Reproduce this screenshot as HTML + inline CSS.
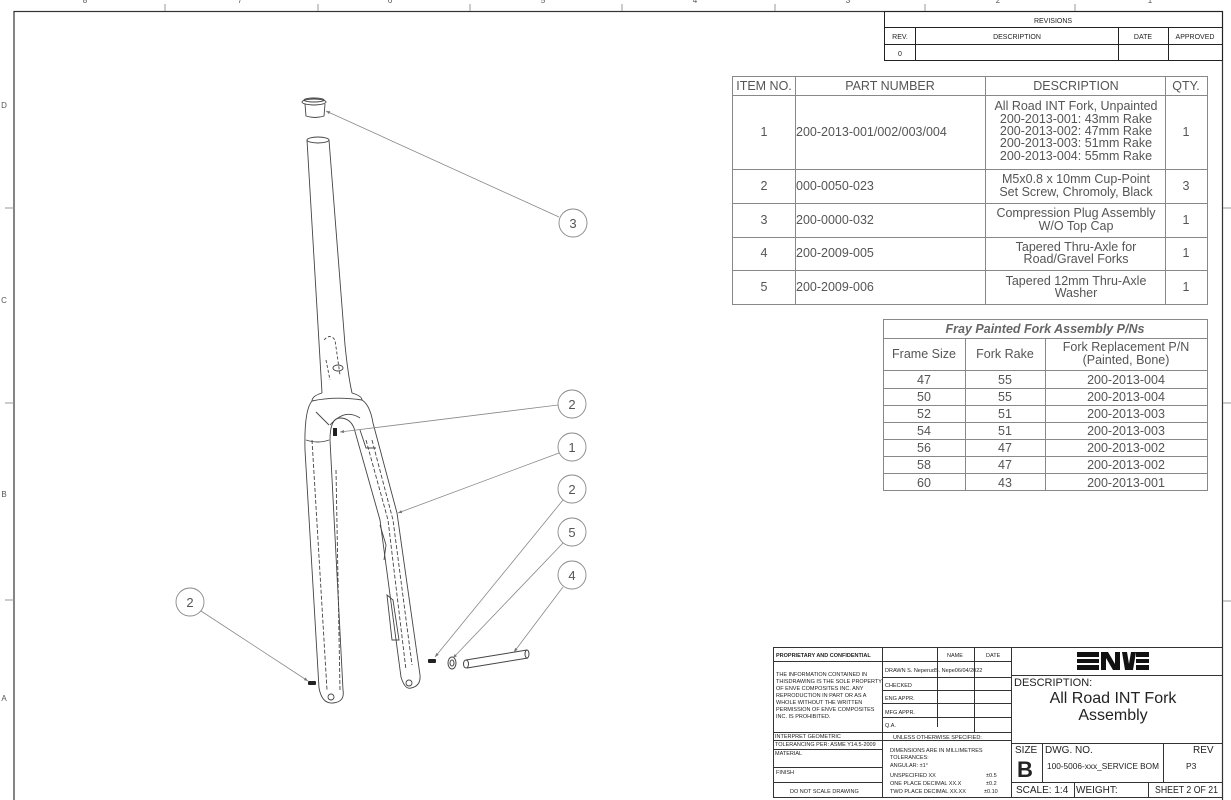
<!DOCTYPE html>
<html><head><meta charset="utf-8"><style>
html,body{margin:0;padding:0;background:#fff;width:1231px;height:800px;overflow:hidden}
svg{display:block}
text{font-family:"Liberation Sans",sans-serif;fill:#555}
.b{fill:#222}
</style></head><body>
<svg width="1231" height="800" viewBox="0 0 1231 800" xmlns="http://www.w3.org/2000/svg">
<defs><marker id="ar" viewBox="0 0 10 10" refX="10" refY="5" markerWidth="7" markerHeight="5" orient="auto"><path d="M0 1 L10 5 L0 9 Z" fill="#777"/></marker></defs>
<!-- frame -->
<rect x="14" y="11.5" width="1208.5" height="790" fill="none" stroke="#333" stroke-width="1.2"/>
<g stroke="#999" stroke-width="1">
<line x1="165" y1="4" x2="165" y2="11"/><line x1="318" y1="4" x2="318" y2="11"/><line x1="470" y1="4" x2="470" y2="11"/><line x1="622" y1="4" x2="622" y2="11"/><line x1="775" y1="4" x2="775" y2="11"/><line x1="925" y1="4" x2="925" y2="11"/><line x1="1075" y1="4" x2="1075" y2="11"/>
<line x1="5" y1="208" x2="14" y2="208"/><line x1="5" y1="403" x2="14" y2="403"/><line x1="5" y1="600" x2="14" y2="600"/>
<line x1="1223" y1="208" x2="1231" y2="208"/><line x1="1223" y1="403" x2="1231" y2="403"/><line x1="1223" y1="601" x2="1231" y2="601"/>
</g>
<g font-size="8" text-anchor="middle"><text x="85" y="3">8</text><text x="240" y="3">7</text><text x="390" y="3">6</text><text x="543" y="3">5</text><text x="695" y="3">4</text><text x="848" y="3">3</text><text x="998" y="3">2</text><text x="1150" y="3">1</text>
<text x="4" y="108">D</text><text x="4" y="303">C</text><text x="4" y="497">B</text><text x="4" y="701">A</text></g>

<!-- revisions -->
<g stroke="#222" stroke-width="1" fill="none">
<rect x="884.5" y="11.5" width="338" height="49"/>
<line x1="884" y1="27.5" x2="1222" y2="27.5"/><line x1="884" y1="44.5" x2="1222" y2="44.5"/>
<line x1="915.5" y1="27" x2="915.5" y2="60"/><line x1="1118.5" y1="27" x2="1118.5" y2="60"/><line x1="1168.5" y1="27" x2="1168.5" y2="60"/>
</g>
<g font-size="7" text-anchor="middle"><text class="b" x="1053" y="23">REVISIONS</text><text class="b" x="900" y="39">REV.</text><text class="b" x="1017" y="39">DESCRIPTION</text><text class="b" x="1143" y="39">DATE</text><text class="b" x="1195" y="39">APPROVED</text><text class="b" x="900" y="56">0</text></g>

<!-- BOM -->
<g stroke="#888" stroke-width="1" fill="none">
<rect x="732.5" y="76.5" width="475" height="228"/>
<line x1="732" y1="95.5" x2="1207" y2="95.5"/><line x1="732" y1="169.5" x2="1207" y2="169.5"/><line x1="732" y1="203.5" x2="1207" y2="203.5"/><line x1="732" y1="237.5" x2="1207" y2="237.5"/><line x1="732" y1="270.5" x2="1207" y2="270.5"/>
<line x1="795.5" y1="76" x2="795.5" y2="305"/><line x1="985.5" y1="76" x2="985.5" y2="305"/><line x1="1165.5" y1="76" x2="1165.5" y2="305"/>
</g>
<g font-size="12.5" text-anchor="middle">
<text x="764" y="90">ITEM NO.</text><text x="890" y="90">PART NUMBER</text><text x="1076" y="90">DESCRIPTION</text><text x="1186" y="90">QTY.</text>
<text x="764" y="136">1</text><text x="764" y="190">2</text><text x="764" y="224">3</text><text x="764" y="257">4</text><text x="764" y="291">5</text>
<text x="1186" y="136">1</text><text x="1186" y="190">3</text><text x="1186" y="224">1</text><text x="1186" y="257">1</text><text x="1186" y="291">1</text>
<text x="1076" y="110">All Road INT Fork, Unpainted</text><text x="1076" y="123">200-2013-001:  43mm Rake</text><text x="1076" y="135">200-2013-002:  47mm Rake</text><text x="1076" y="147">200-2013-003:  51mm Rake</text><text x="1076" y="160">200-2013-004:  55mm Rake</text>
<text x="1076" y="183">M5x0.8 x 10mm Cup-Point</text><text x="1076" y="196">Set Screw, Chromoly, Black</text>
<text x="1076" y="217">Compression Plug Assembly</text><text x="1076" y="230">W/O Top Cap</text>
<text x="1076" y="251">Tapered Thru-Axle for</text><text x="1076" y="263">Road/Gravel Forks</text>
<text x="1076" y="285">Tapered 12mm Thru-Axle</text><text x="1076" y="297">Washer</text>
</g>
<g font-size="12.5"><text x="796" y="136">200-2013-001/002/003/004</text><text x="796" y="190">000-0050-023</text><text x="796" y="224">200-0000-032</text><text x="796" y="257">200-2009-005</text><text x="796" y="291">200-2009-006</text></g>

<!-- Fray table -->
<g stroke="#888" stroke-width="1" fill="none">
<rect x="883.5" y="319.5" width="324" height="171"/>
<line x1="883" y1="338.5" x2="1207" y2="338.5"/><line x1="883" y1="370.5" x2="1207" y2="370.5"/>
<line x1="883" y1="388.5" x2="1207" y2="388.5"/><line x1="883" y1="405.5" x2="1207" y2="405.5"/><line x1="883" y1="422.5" x2="1207" y2="422.5"/><line x1="883" y1="439.5" x2="1207" y2="439.5"/><line x1="883" y1="456.5" x2="1207" y2="456.5"/><line x1="883" y1="473.5" x2="1207" y2="473.5"/>
<line x1="965.5" y1="338" x2="965.5" y2="491"/><line x1="1045.5" y1="338" x2="1045.5" y2="491"/>
</g>
<g font-size="12.5" text-anchor="middle">
<text x="1045" y="333" font-weight="bold" font-style="italic" style="fill:#666">Fray Painted Fork Assembly P/Ns</text>
<text x="924" y="358">Frame Size</text><text x="1005" y="358">Fork Rake</text><text x="1126" y="351">Fork Replacement P/N</text><text x="1126" y="364">(Painted, Bone)</text>
<text x="924" y="384">47</text><text x="1005" y="384">55</text><text x="1126" y="384">200-2013-004</text>
<text x="924" y="401">50</text><text x="1005" y="401">55</text><text x="1126" y="401">200-2013-004</text>
<text x="924" y="418">52</text><text x="1005" y="418">51</text><text x="1126" y="418">200-2013-003</text>
<text x="924" y="435">54</text><text x="1005" y="435">51</text><text x="1126" y="435">200-2013-003</text>
<text x="924" y="452">56</text><text x="1005" y="452">47</text><text x="1126" y="452">200-2013-002</text>
<text x="924" y="469">58</text><text x="1005" y="469">47</text><text x="1126" y="469">200-2013-002</text>
<text x="924" y="487">60</text><text x="1005" y="487">43</text><text x="1126" y="487">200-2013-001</text>
</g>

<!-- title block -->
<g stroke="#333" stroke-width="1" fill="none">
<rect x="773.5" y="647.5" width="449" height="150"/>
<line x1="882.5" y1="647" x2="882.5" y2="797"/><line x1="1011.5" y1="647" x2="1011.5" y2="797"/>
<line x1="937.5" y1="647" x2="937.5" y2="727"/><line x1="974.5" y1="647" x2="974.5" y2="733"/>
<line x1="773" y1="661.5" x2="1011" y2="661.5"/>
<line x1="882" y1="677.5" x2="1011" y2="677.5"/><line x1="882" y1="690.5" x2="1011" y2="690.5"/><line x1="882" y1="703.5" x2="1011" y2="703.5"/><line x1="882" y1="717.5" x2="1011" y2="717.5"/><line x1="882" y1="732.5" x2="1011" y2="732.5"/>
<line x1="773" y1="732.5" x2="882" y2="732.5"/><line x1="773" y1="740.5" x2="1011" y2="740.5"/><line x1="773" y1="749.5" x2="882" y2="749.5"/><line x1="773" y1="767.5" x2="882" y2="767.5"/><line x1="773" y1="782.5" x2="882" y2="782.5"/>
<line x1="1011" y1="675.5" x2="1222" y2="675.5"/><line x1="1011" y1="743.5" x2="1222" y2="743.5"/><line x1="1011" y1="782.5" x2="1222" y2="782.5"/>
<line x1="1042.5" y1="743" x2="1042.5" y2="782"/><line x1="1163.5" y1="743" x2="1163.5" y2="782"/>
<line x1="1074.5" y1="782" x2="1074.5" y2="797"/><line x1="1148.5" y1="782" x2="1148.5" y2="797"/>
</g>
<g font-size="5.5">
<text class="b" x="776" y="657" font-weight="bold">PROPRIETARY AND CONFIDENTIAL</text>
<text class="b" x="776" y="676">THE INFORMATION CONTAINED IN</text><text class="b" x="776" y="683">THISDRAWING IS THE SOLE PROPERTY</text><text class="b" x="776" y="690">OF ENVE COMPOSITES INC. ANY</text><text class="b" x="776" y="697">REPRODUCTION IN PART OR AS A</text><text class="b" x="776" y="704">WHOLE WITHOUT THE WRITTEN</text><text class="b" x="776" y="711">PERMISSION OF ENVE COMPOSITES</text><text class="b" x="776" y="718">INC. IS PROHIBITED.</text>
<text class="b" x="775" y="738">INTERPRET GEOMETRIC</text><text class="b" x="775" y="746">TOLERANCING PER: ASME Y14.5-2009</text><text class="b" x="775" y="755">MATERIAL</text><text class="b" x="776" y="774">FINISH</text><text class="b" x="790" y="793">DO NOT SCALE DRAWING</text>
<text class="b" x="947" y="657">NAME</text><text class="b" x="986" y="657">DATE</text>
<text class="b" x="885" y="672">DRAWN   S. NeperudS. Nepe06/04/2022</text>
<text class="b" x="885" y="687">CHECKED</text><text class="b" x="885" y="700">ENG APPR.</text><text class="b" x="885" y="714">MFG APPR.</text><text class="b" x="885" y="727">Q.A.</text>
<text class="b" x="893" y="739">UNLESS OTHERWISE SPECIFIED:</text>
<text class="b" x="890" y="752">DIMENSIONS ARE IN MILLIMETRES</text><text class="b" x="890" y="759">TOLERANCES:</text><text class="b" x="890" y="767">ANGULAR: ±1°</text><text class="b" x="890" y="777">UNSPECIFIED XX</text><text class="b" x="890" y="785">ONE PLACE DECIMAL XX.X</text><text class="b" x="890" y="793">TWO PLACE DECIMAL XX.XX</text>
<text class="b" x="986" y="777">±0.5</text><text class="b" x="986" y="785">±0.2</text><text class="b" x="984" y="793">±0.10</text>
</g>
<!-- logo -->
<g fill="#111">
<rect x="1077" y="652" width="22" height="5"/><rect x="1077" y="659" width="22" height="4"/><rect x="1077" y="665" width="22" height="5"/>
<polygon points="1101,652 1108,652 1115,664 1115,652 1120,652 1120,670 1113,670 1106,658 1106,670 1101,670"/>
<polygon points="1122,652 1127,652 1129,664 1131,652 1136,652 1133,670 1125,670"/>
<rect x="1136" y="652" width="13" height="5"/><rect x="1136" y="659" width="13" height="4"/><rect x="1136" y="665" width="13" height="5"/>
</g>
<g><text class="b" x="1014" y="686" font-size="11">DESCRIPTION:</text>
<text class="b" x="1113" y="703" font-size="16" text-anchor="middle">All Road INT Fork</text><text class="b" x="1113" y="720" font-size="16" text-anchor="middle">Assembly</text>
<text class="b" x="1015" y="753" font-size="10">SIZE</text><text class="b" x="1017" y="777" font-size="22" font-weight="bold">B</text>
<text class="b" x="1045" y="753" font-size="10">DWG.  NO.</text><text class="b" x="1047" y="769" font-size="8.5" textLength="112" lengthAdjust="spacingAndGlyphs">100-5006-xxx_SERVICE BOM</text>
<text class="b" x="1193" y="753" font-size="10">REV</text><text class="b" x="1186" y="769" font-size="8.5">P3</text>
<text class="b" x="1016" y="793" font-size="10">SCALE: 1:4</text><text class="b" x="1076" y="793" font-size="10">WEIGHT:</text><text class="b" x="1155" y="793" font-size="10" textLength="63" lengthAdjust="spacingAndGlyphs">SHEET 2 OF 21</text></g>

<!-- fork drawing -->
<g stroke="#444" stroke-width="0.9" fill="none">
<ellipse cx="314" cy="102" rx="12" ry="3"/><ellipse cx="314" cy="100" rx="10" ry="2"/>
<path d="M305 104 L306 116 Q315 119 324 116 L325 104"/>
<ellipse cx="318" cy="140" rx="11" ry="3"/>
<path d="M307 140 L322 393 M329 140 L345 345 Q348 375 352 393"/>
<path d="M324 340 Q330 333 335 340 L340 375 M326 360 L330 380" stroke-dasharray="3 2"/>
<ellipse cx="338" cy="368" rx="5" ry="3"/>
<path d="M322 393 Q312 396 312 401 M352 393 Q362 396 362 400"/>
<!-- crown & legs -->
<path d="M312 401 Q304 410 305 450 L319 688 Q322 704 333 703 Q345 702 343 690 L330 440 Q330 418 340 418 Q350 418 354 428 L380 520 L401 677 Q405 690 411 688 Q421 686 420 675 L397 513 L373 423 Q370 405 362 400"/>
<path d="M312 401 Q335 396 362 400 M306 440 Q318 444 329 440 M316 412 L329 425 M330 425 Q345 408 360 418 M360 430 L366 448 L376 448"/>
<path d="M312 440 L327 690 M336 470 L340 690 M366 440 L388 520 L406 670 M372 440 L393 520 L412 665" stroke-dasharray="4 2"/>
<path d="M380 525 L386 545 L384 560 M387 595 L393 600 L399 640 L392 640 Z"/>
<circle cx="331" cy="697" r="3"/><circle cx="409" cy="683" r="3"/>
</g>
<!-- screws & axle -->
<g fill="#222"><rect x="333" y="428" width="4" height="8"/><rect x="308" y="681" width="8" height="4" rx="1"/><rect x="428" y="659" width="8" height="4" rx="1"/></g>
<g stroke="#444" stroke-width="1" fill="none">
<ellipse cx="452" cy="663" rx="4" ry="6"/><ellipse cx="452" cy="663" rx="2" ry="3"/>
<path d="M466 660 L527 650 M467 668 L528 658"/><ellipse cx="466" cy="664" rx="2.5" ry="4"/><ellipse cx="527" cy="654" rx="2" ry="4"/>
</g>
<!-- leaders -->
<g stroke="#888" stroke-width="0.8" fill="none" marker-end="url(#ar)">
<line x1="559" y1="217" x2="326" y2="111"/>
<line x1="558" y1="405" x2="340" y2="432"/>
<line x1="559" y1="453" x2="398" y2="513"/>
<line x1="563" y1="500" x2="435" y2="657"/>
<line x1="563" y1="543" x2="453" y2="658"/>
<line x1="563" y1="587" x2="514" y2="652"/>
<line x1="201" y1="611" x2="308" y2="681"/>
</g>
<g stroke="#888" stroke-width="0.9" fill="#fff">
<circle cx="573" cy="223" r="14"/><circle cx="572" cy="404" r="14"/><circle cx="572" cy="447" r="14"/><circle cx="572" cy="489" r="14"/><circle cx="572" cy="532" r="14"/><circle cx="572" cy="575" r="14"/><circle cx="190" cy="602" r="14"/>
</g>
<g font-size="13" text-anchor="middle">
<text x="573" y="228">3</text><text x="572" y="409">2</text><text x="572" y="452">1</text><text x="572" y="494">2</text><text x="572" y="537">5</text><text x="572" y="580">4</text><text x="190" y="607">2</text>
</g>
</svg>
</body></html>
